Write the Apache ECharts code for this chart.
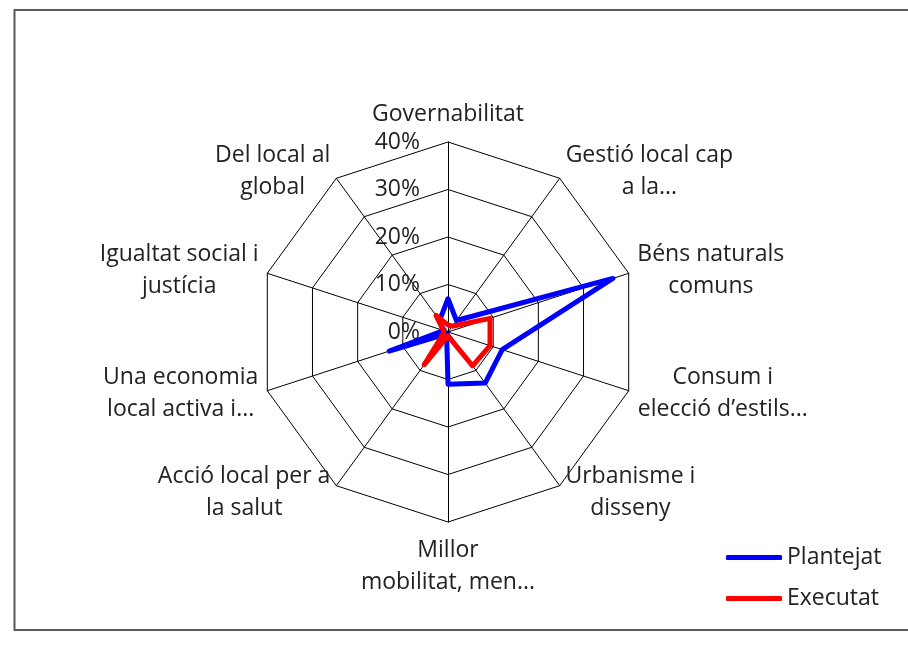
<!DOCTYPE html>
<html>
<head>
    <meta charset="utf-8">
    <script src="https://cdn.jsdelivr.net/npm/echarts@6/dist/echarts.min.js"></script>
</head>
<body style="margin: 0; background: #fff">
    <div id="container" style="height: 651px; width: 908px"></div>
    <script type="text/javascript">
        // axes listed clockwise from the top, as in the picture
        var categories = ['Governabilitat', 'Gestió local cap\na la...', 'Béns naturals\ncomuns',
            'Consum i\nelecció d’estils...', 'Urbanisme i\ndisseny', 'Millor\nmobilitat, men...',
            'Acció local per a\nla salut', 'Una economia\nlocal activa i...', 'Igualtat social i\njustícia',
            'Del local al\nglobal'];
        var seriesNames = ['Plantejat', 'Executat'];
        var plantejat = [7, 3, 36.5, 12, 13.3, 11, 0.5, 13, 1, 3];
        var executat = [1.5, 1.5, 9.3, 9.3, 8.8, 0.8, 8.5, 1, 1, 4.3];
        var axisMax = 40;

        var FONT = '"Open Sans"';
        var textColor = '#222';

        // echarts radar runs counter-clockwise, so flip everything but the first axis
        function clockwise(arr) {
            return [arr[0]].concat(arr.slice(1).reverse());
        }

        // centre each line of a label inside its own block
        var ctx = document.createElement('canvas').getContext('2d');
        ctx.font = '23px ' + FONT;
        var rich = {};
        categories.forEach(function (c, i) {
            var w = 0;
            c.split('\n').forEach(function (l) {
                w = Math.max(w, ctx.measureText(l).width);
            });
            rich['n' + i] = {
                width: Math.ceil(w) + 2,
                align: 'center',
                fontSize: 23,
                lineHeight: 32,
                fontFamily: FONT,
                color: textColor
            };
        });

        var indicator = clockwise(categories).map(function (c) {
            var ind = { name: c, min: 0, max: axisMax };
            if (c === categories[0]) {
                ind.axisLabel = {
                    show: true,
                    formatter: '{value}%',
                    fontSize: 23,
                    fontFamily: FONT,
                    color: textColor,
                    margin: 28
                };
            }
            if (c === categories[5]) {
                ind.nameGap = 12; // bottom label sits a little lower
            }
            return ind;
        });

        var dom = document.getElementById('container');
        var myChart = echarts.init(dom, null, { renderer: 'canvas' });
        var option = {
            backgroundColor: '#fff',
            animation: false,
            graphic: [{
                type: 'rect',
                silent: true,
                z: -10,
                shape: { x: 14.5, y: 10, width: 900, height: 620 },
                style: { fill: 'none', stroke: '#5a5a5a', lineWidth: 2 }
            }],
            legend: {
                data: seriesNames,
                orient: 'vertical',
                left: 721,
                top: 541,
                icon: 'roundRect',
                itemWidth: 56,
                itemHeight: 5,
                itemGap: 18,
                textStyle: { fontSize: 23, fontFamily: FONT, color: textColor }
            },
            radar: {
                center: [448, 332],
                radius: 190,
                startAngle: 90,
                splitNumber: 4,
                shape: 'polygon',
                axisNameGap: 8,
                axisName: {
                    color: textColor,
                    fontSize: 23,
                    fontFamily: FONT,
                    lineHeight: 32,
                    formatter: function (name) {
                        var i = categories.indexOf(name);
                        return name.split('\n').map(function (l) {
                            return '{n' + i + '|' + l + '}';
                        }).join('\n');
                    },
                    rich: rich
                },
                splitArea: { show: false },
                splitLine: { lineStyle: { color: '#000', width: 1 } },
                axisLine: { lineStyle: { color: '#000', width: 1 } },
                axisTick: { show: false },
                indicator: indicator
            },
            series: [{
                type: 'radar',
                symbol: 'none',
                data: [{
                    name: seriesNames[0],
                    value: clockwise(plantejat),
                    itemStyle: { color: '#0000ff' },
                    lineStyle: { color: '#0000ff', width: 5, join: 'round', cap: 'round' }
                }, {
                    name: seriesNames[1],
                    value: clockwise(executat),
                    itemStyle: { color: '#ff0000' },
                    lineStyle: { color: '#ff0000', width: 5, join: 'round', cap: 'round' }
                }]
            }]
        };
        myChart.setOption(option);
    </script>
</body>
</html>
